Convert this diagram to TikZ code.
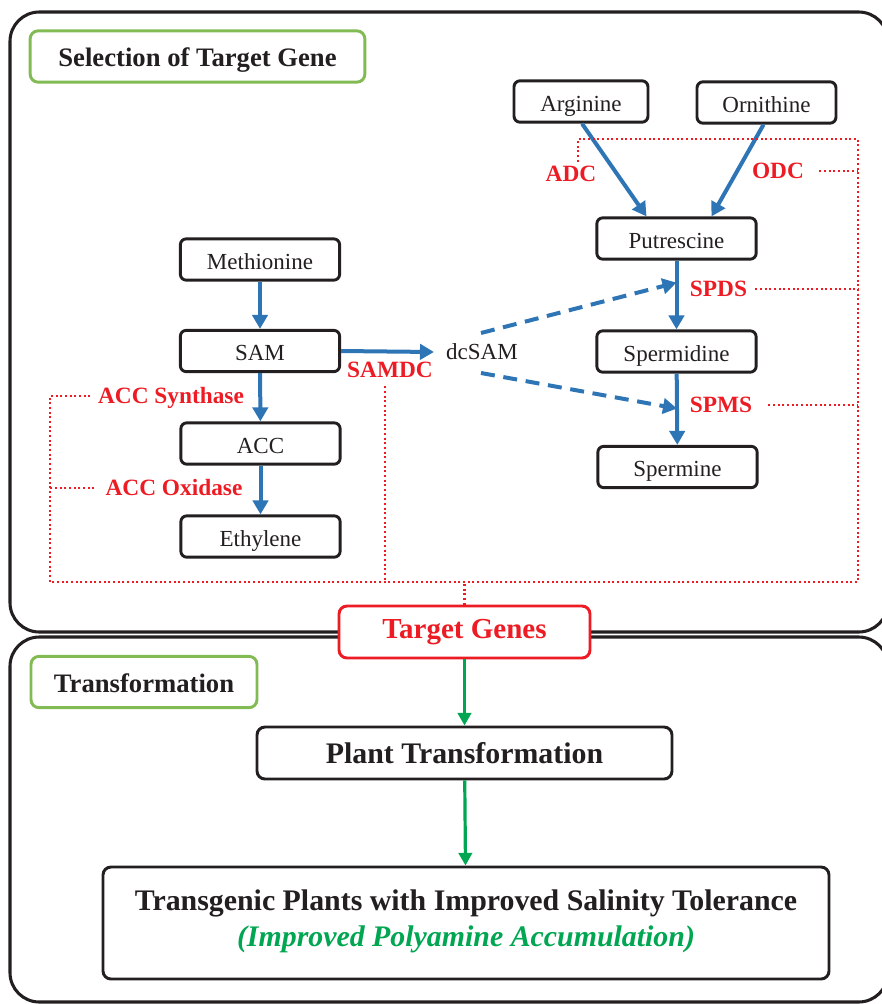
\documentclass[tikz,border=0pt]{standalone}
\usepackage{fontspec}
\setmainfont{Liberation Serif}
\usetikzlibrary{arrows.meta,calc}
\definecolor{pathblue}{RGB}{46,117,182}
\definecolor{enzred}{RGB}{237,28,36}
\definecolor{framegreen}{RGB}{130,186,84}
\definecolor{arrowgreen}{RGB}{0,166,81}
\definecolor{ink}{RGB}{35,31,32}

\begin{document}
\begin{tikzpicture}[x=0.75pt,y=-0.75pt,
  compound/.style={draw=ink, line width=2.2pt, rounded corners=4.5pt,
    minimum width=119.5pt, minimum height=31pt, inner sep=0pt, text=ink,
    text height=14.7pt, text depth=0pt,
    font=\fontsize{17.25}{20}\selectfont},
  plain/.style={inner sep=0pt, text=ink, text height=11.7pt, text depth=0pt,
    font=\fontsize{17.25}{20}\selectfont},
  enzyme/.style={inner sep=0pt, text=enzred, text height=11.9pt, text depth=0pt,
    font=\fontsize{17.5}{20}\selectfont\bfseries},
  stagelabel/.style={draw=framegreen, line width=2.2pt, rounded corners=6pt,
    inner sep=0pt, text=ink, minimum height=38.5pt,
    text height=15pt, text depth=0pt,
    font=\fontsize{20}{24}\selectfont\bfseries},
  stepbox/.style={draw=ink, line width=2.2pt, rounded corners=6pt, fill=white,
    inner sep=0pt, text=ink, minimum height=39pt,
    font=\fontsize{22.4}{27}\selectfont\bfseries},
  frame/.style={draw=ink, line width=2.3pt, rounded corners=22pt},
  flow/.style={pathblue, line width=3pt, -{Triangle[length=10.5pt,width=11.5pt]}},
  dashflow/.style={flow, dash pattern=on 10.5pt off 6.5pt},
  gflow/.style={arrowgreen, line width=2.4pt, -{Triangle[length=9.5pt,width=10pt]}},
  dotline/.style={enzred, line width=1.7pt, dash pattern=on 1.5pt off 2pt}
]
\useasboundingbox (0,0) rectangle (882,1004);

% the two stage frames
\begin{scope}
  \clip (0,0) rectangle (882,1004);
  \draw[frame] (10,12) rectangle (888,632);
  \draw[frame] (10,637) rectangle (888,1002);
\end{scope}

% stage headings
\node[stagelabel, minimum width=251pt] (selhead) at (197.5,56.5) {Selection of Target Gene};
\node[stagelabel, minimum width=169.5pt] (trhead) at (144,682) {Transformation};

% ethylene branch
\node[compound] (met) at (260,259.5) {Methionine};
\node[compound] (sam) at (260,351) {SAM};
\node[compound] (acc) at (260.5,443.5) {ACC};
\node[compound] (eth) at (260.5,536.5) {Ethylene};
\node[plain] (dcsam) at (482,352) {dcSAM};

% polyamine branch
\node[compound, minimum width=100.5pt] (arg) at (581,101.5) {Arginine};
\node[compound, minimum width=104.25pt] (orn) at (766.5,102.5) {Ornithine};
\node[compound] (put) at (676.5,238.5) {Putrescine};
\node[compound] (spd) at (676.5,351.5) {Spermidine};
\node[compound] (spm) at (677.5,467) {Spermine};

% enzymes
\node[enzyme] (adc) at (571,174) {ADC};
\node[enzyme] (odc) at (778,171) {ODC};
\node[enzyme] (spds) at (718.5,289) {SPDS};
\node[enzyme] (spms) at (721,405) {SPMS};
\node[enzyme] (samdc) at (390,370) {SAMDC};
\node[enzyme] (accs) at (171,396) {ACC Synthase};
\node[enzyme] (acco) at (174,488) {ACC Oxidase};

% transformation steps
\node[stepbox, draw=enzred, text=enzred, minimum width=188.25pt,
  font=\fontsize{21.75}{26}\selectfont\bfseries] (target) at (464.5,632) {Target Genes};
\node[stepbox, minimum width=311.25pt] (plant) at (464.5,753) {Plant Transformation};
\node[stepbox, minimum width=544.5pt, minimum height=84pt] (result) at (466,923) {};
\node[inner sep=0pt, align=center, text=ink,
  font=\fontsize{22.4}{27}\selectfont\bfseries] (resulttext) at (466,921.5)
  {Transgenic Plants with Improved Salinity Tolerance\\[-0.5pt]
   {\color{arrowgreen}\itshape (Improved Polyamine Accumulation)}};

% metabolic arrows
\draw[flow] (met) -- (sam);
\draw[flow] (sam) -- (acc);
\draw[flow] (acc) -- (eth);
\draw[flow] (sam.east) -- ($(dcsam.west)+(-12,0)$);
\draw[flow] ($(arg.south)+(1,0)$) -- ($(put.north)+(-30,0)$);
\draw[flow] ($(orn.south)+(-3,0)$) -- ($(put.north)+(35,0)$);
\draw[flow] (put) -- (spd);
\draw[flow] (spd) -- (spm);
\coordinate (spdin) at ($(put.south)!0.32!(spd.north)$);
\coordinate (spmin) at ($(spd.south)!0.49!(spm.north)$);
\draw[dashflow] ($(dcsam.center)+(-1,-19)$) -- (spdin);
\draw[dashflow] ($(dcsam.center)+(-1,21)$) -- (spmin);

% enzyme-to-target-gene links
\coordinate (loopTR) at (858,139);
\coordinate (loopBR) at (858,582);
\coordinate (loopBL) at (50,582);
\draw[dotline] ($(adc.north)+(7,-4)$) |- (loopTR) -- (loopBR) -- (loopBL)
  |- ($(accs.west)+(-6,0)$);
\draw[dotline] ($(acco.west)+(-11,0)$) -- (acco.west -| loopBL);
\draw[dotline] ($(odc.east)+(15,0)$) -- (odc.east -| loopTR);
\draw[dotline] ($(spds.east)+(8,0)$) -- (spds.east -| loopTR);
\draw[dotline] ($(spms.east)+(16,0)$) -- (spms.east -| loopTR);
\coordinate (samdcdrop) at ($(samdc.south)+(-5,8)$);
\draw[dotline] (samdcdrop) -- (samdcdrop |- loopBL);
\draw[dotline] (target.north) -- (target.north |- loopBL);

% transformation arrows
\draw[gflow] (target) -- (plant);
\draw[gflow] (plant) -- (result);
\end{tikzpicture}
\end{document}
